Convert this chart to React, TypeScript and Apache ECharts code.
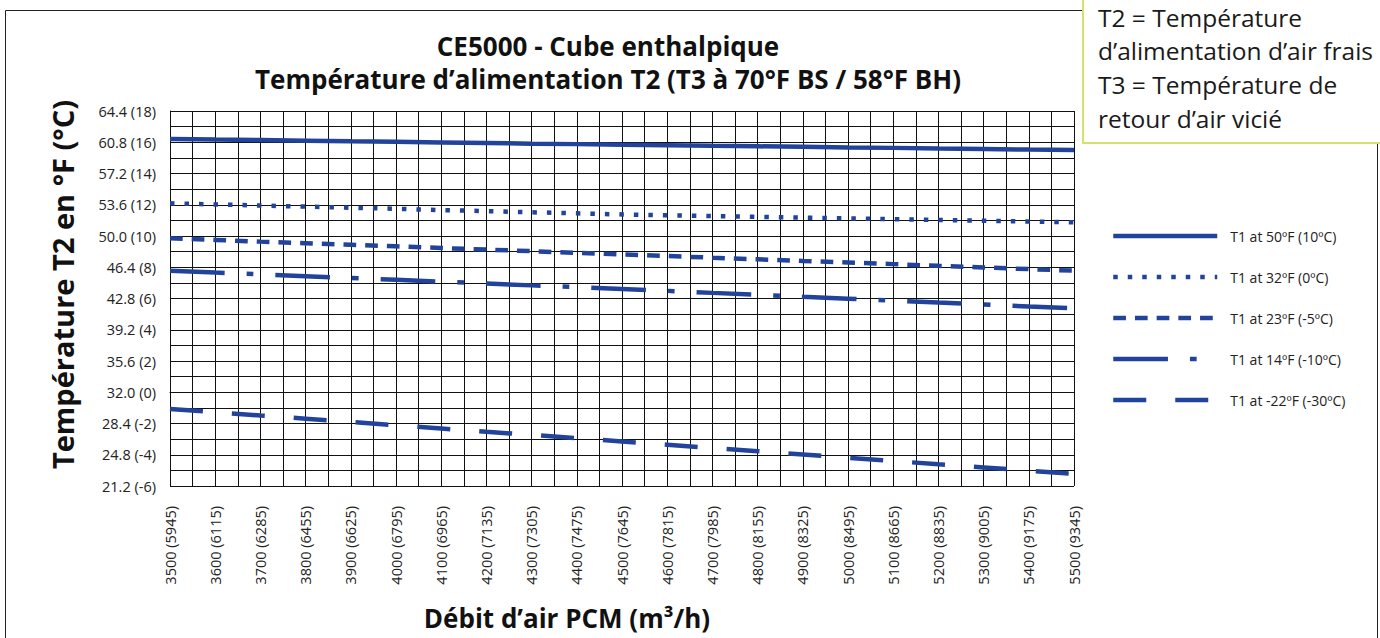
import { useEffect, useRef } from 'react';
import * as echarts from 'echarts';

// Air flow (CFM) and its m³/h equivalent
const flowCfm = [3500, 3600, 3700, 3800, 3900, 4000, 4100, 4200, 4300, 4400, 4500, 4600, 4700, 4800, 4900, 5000, 5100, 5200, 5300, 5400, 5500];
const flowM3h = [5945, 6115, 6285, 6455, 6625, 6795, 6965, 7135, 7305, 7475, 7645, 7815, 7985, 8155, 8325, 8495, 8665, 8835, 9005, 9175, 9345];

// Y ticks (°C scale) and their labels "°F (°C)"
const yTicksC = [-6, -4, -2, 0, 2, 4, 6, 8, 10, 12, 14, 16, 18];
const yTickLabels = ['21.2 (-6)', '24.8 (-4)', '28.4 (-2)', '32.0 (0)', '35.6 (2)', '39.2 (4)', '42.8 (6)', '46.4 (8)', '50.0 (10)', '53.6 (12)', '57.2 (14)', '60.8 (16)', '64.4 (18)'];

const seriesNames = ['T1 at 50ºF (10ºC)', 'T1 at 32ºF (0ºC)', 'T1 at 23ºF (-5ºC)', 'T1 at 14ºF (-10ºC)', 'T1 at -22ºF (-30ºC)'];

// T2 supply temperature, °C
const t1At50F = [16.21, 16.17, 16.14, 16.10, 16.06, 16.03, 15.99, 15.95, 15.91, 15.88, 15.84, 15.81, 15.77, 15.74, 15.71, 15.67, 15.64, 15.60, 15.57, 15.53, 15.50];
const t1At32F = [12.09, 12.02, 11.95, 11.88, 11.81, 11.74, 11.66, 11.59, 11.52, 11.45, 11.38, 11.33, 11.28, 11.23, 11.18, 11.13, 11.08, 11.03, 10.98, 10.93, 10.88];
const t1At23F = [9.85, 9.75, 9.64, 9.54, 9.44, 9.34, 9.23, 9.13, 9.03, 8.92, 8.82, 8.72, 8.61, 8.51, 8.40, 8.30, 8.20, 8.09, 7.99, 7.88, 7.78];
const t1At14F = [7.78, 7.66, 7.55, 7.43, 7.31, 7.20, 7.08, 6.96, 6.84, 6.73, 6.61, 6.49, 6.36, 6.24, 6.11, 5.99, 5.87, 5.74, 5.62, 5.49, 5.37];
const t1AtM22F = [-1.07, -1.28, -1.49, -1.69, -1.90, -2.11, -2.32, -2.53, -2.73, -2.94, -3.15, -3.36, -3.57, -3.77, -3.98, -4.19, -4.40, -4.61, -4.81, -5.02, -5.23];

const seriesValues = [t1At50F, t1At32F, t1At23F, t1At14F, t1AtM22F];
const dashPatterns: (number[] | 'solid')[] = ['solid', [4.5, 10], [12.7, 9], [54.7, 22, 6.7, 22], [33, 29]];

const noteLines = ['T2 = Température', 'd’alimentation d’air frais', 'T3 = Température de', 'retour d’air vicié'];

const FONT = '"Open Sans"';
const BLUE = '#22439b';
const GRID = '#111111';

export default function App() {
  const ref = useRef<HTMLDivElement>(null);

  useEffect(() => {
    document.body.style.margin = '0';
    const chart = echarts.init(ref.current!, null, { renderer: 'svg' });
    const noteY = [17, 50, 84, 118];
    const option: any = {
      animation: false,
      backgroundColor: '#ffffff',
      textStyle: { fontFamily: FONT },
      title: {
        text: 'CE5000 - Cube enthalpique\nTempérature d’alimentation T2 (T3 à 70°F BS / 58°F BH)',
        left: 608,
        top: 29,
        padding: 0,
        textAlign: 'center',
        textStyle: { fontFamily: FONT, fontSize: 26, fontWeight: 'bold', color: '#111', lineHeight: 33 },
      },
      legend: {
        orient: 'vertical',
        left: 1111,
        top: 228,
        padding: 0,
        itemWidth: 104,
        itemHeight: 16,
        itemGap: 25,
        itemStyle: { opacity: 0 },
        lineStyle: { width: 4.5 },
        textStyle: { fontFamily: FONT, fontSize: 14, lineHeight: 16, color: '#222', padding: [0, 0, 0, 8] },
        data: seriesNames,
      },
      grid: { left: 170, right: 306, top: 111, bottom: 152, containLabel: false },
      xAxis: {
        type: 'value',
        min: flowCfm[0],
        max: flowCfm[flowCfm.length - 1],
        interval: 100,
        name: 'Débit d’air PCM (m³/h)',
        nameLocation: 'middle',
        nameGap: 119,
        nameTextStyle: { fontFamily: FONT, fontSize: 26, fontWeight: 'bold', color: '#111', padding: [0, 110, 0, 0] },
        axisLine: { show: true, lineStyle: { color: GRID, width: 1 } },
        axisTick: { show: false },
        minorTick: { show: false, splitNumber: 2 },
        axisLabel: {
          rotate: 90,
          margin: 20,
          fontFamily: FONT,
          fontSize: 14.5,
          color: '#222',
          padding: [10, 0, 0, 0],
          formatter: (v: number) => {
            const i = flowCfm.indexOf(Math.round(v));
            return i >= 0 ? `${flowCfm[i]} (${flowM3h[i]})` : '';
          },
        },
        splitLine: { show: true, lineStyle: { color: GRID, width: 1 } },
        minorSplitLine: { show: true, lineStyle: { color: GRID, width: 1 } },
      },
      yAxis: {
        type: 'value',
        min: yTicksC[0],
        max: yTicksC[yTicksC.length - 1],
        interval: 2,
        name: 'Température T2 en °F (°C)',
        nameLocation: 'middle',
        nameRotate: 90,
        nameGap: 93,
        nameTextStyle: { fontFamily: FONT, fontSize: 29, fontWeight: 'bold', color: '#111', padding: [0, 0, 0, 28] },
        axisLine: { show: true, lineStyle: { color: GRID, width: 1 } },
        axisTick: { show: false },
        minorTick: { show: false, splitNumber: 2 },
        axisLabel: {
          margin: 14,
          fontFamily: FONT,
          fontSize: 14.5,
          color: '#222',
          padding: [6, 0, 0, 0],
          formatter: (v: number) => {
            const i = yTicksC.indexOf(Math.round(v));
            return i >= 0 ? yTickLabels[i] : '';
          },
        },
        splitLine: { show: true, lineStyle: { color: GRID, width: 1 } },
        minorSplitLine: { show: true, lineStyle: { color: GRID, width: 1 } },
      },
      series: seriesNames.map((name, s) => ({
        name,
        type: 'line',
        symbol: 'none',
        showSymbol: false,
        z: 3,
        lineStyle: { color: BLUE, width: 4.5, type: dashPatterns[s], cap: 'butt' },
        itemStyle: { color: BLUE },
        data: flowCfm.map((x, i) => [x, seriesValues[s][i]]),
      })),
      graphic: [
        {
          type: 'rect',
          z: 0,
          silent: true,
          shape: { x: 5.5, y: 10.5, width: 1372, height: 700 },
          style: { fill: 'none', stroke: '#222', lineWidth: 1 },
        },
        {
          type: 'group',
          z: 10,
          silent: true,
          children: [
            {
              type: 'rect',
              shape: { x: 1083, y: -20, width: 340, height: 163 },
              style: { fill: '#ffffff', stroke: '#d4e26c', lineWidth: 2 },
            },
            ...noteLines.map((t, i) => ({
              type: 'text',
              x: 1098,
              y: noteY[i],
              style: { text: t, font: `24.5px ${FONT}`, fill: '#1a1a1a', verticalAlign: 'middle' },
            })),
          ],
        },
      ],
    };
    chart.setOption(option);
    return () => chart.dispose();
  }, []);

  return <div ref={ref} style={{ position: 'absolute', left: 0, top: 0, width: 1380, height: 638 }} />;
}
